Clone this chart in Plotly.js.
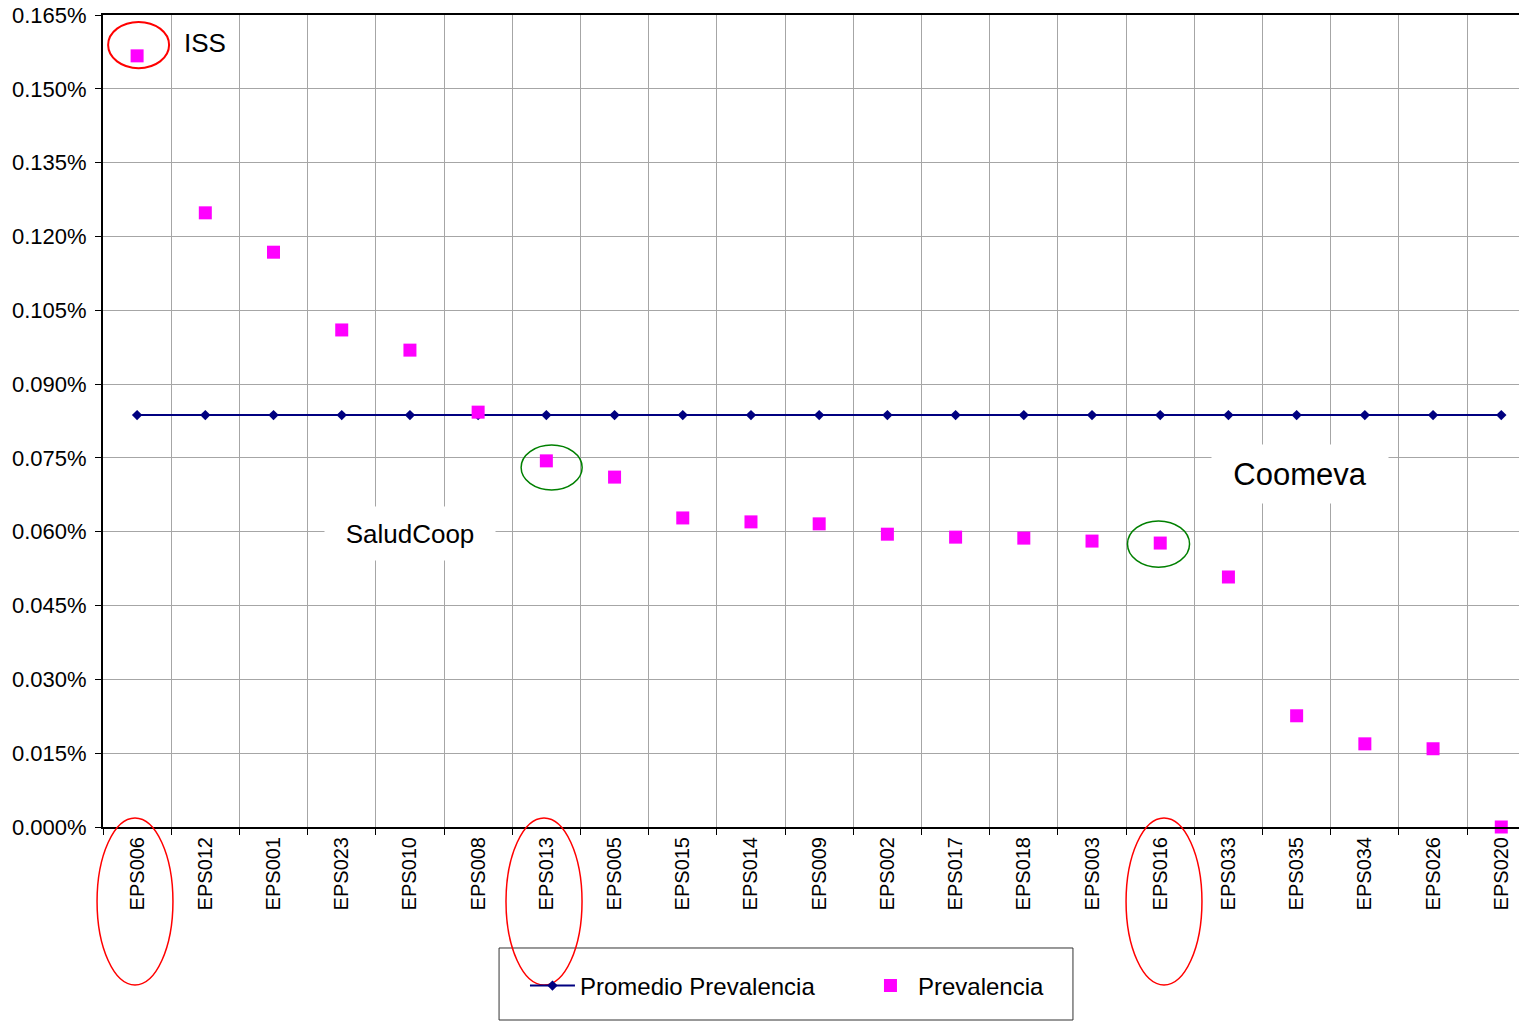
<!DOCTYPE html>
<html>
<head>
<meta charset="utf-8">
<script src="https://cdn.plot.ly/plotly-3.0.1.min.js"></script>
<style>html,body{margin:0;padding:0;background:#fff;}</style>
</head>
<body>
<div id="chart" style="width:1519px;height:1022px;"></div>
<script>
const categories = ["EPS006","EPS012","EPS001","EPS023","EPS010","EPS008","EPS013","EPS005","EPS015","EPS014","EPS009","EPS002","EPS017","EPS018","EPS003","EPS016","EPS033","EPS035","EPS034","EPS026","EPS020"];
const prevalencia = [0.001567,0.001248,0.001168,0.001010,0.000969,0.000843,0.000744,0.000711,0.000628,0.000620,0.000616,0.000595,0.000589,0.000587,0.000581,0.000577,0.000508,0.000226,0.000169,0.000159,0.0];
const promedioValue = 0.000837;
const promedio = categories.map(() => promedioValue);

const FONT = "Liberation Sans, Arial, sans-serif";

const traces = [
  {
    x: categories, y: promedio, name: "Promedio Prevalencia",
    type: "scatter", mode: "lines+markers",
    line: {color: "#000080", width: 2},
    marker: {symbol: "diamond", size: 8, color: "#000080"},
    cliponaxis: false
  },
  {
    x: categories, y: prevalencia, name: "Prevalencia",
    type: "scatter", mode: "markers",
    marker: {symbol: "square", size: 13, color: "#ff00ff"},
    cliponaxis: false
  }
];

const shapes = [
  {type:"rect", xref:"paper", yref:"paper", x0:0.2797, x1:0.685, y0:-0.2377, y1:-0.149, line:{color:"#333", width:1}, layer:"above"},
  {type:"circle", xref:"x", yref:"y", x0:-0.425, x1:0.469, y0:0.001542, y1:0.001636, line:{color:"#ff0000", width:2}, layer:"above"},
  {type:"circle", xref:"x", yref:"y", x0:5.63, x1:6.525, y0:0.000685, y1:0.000776, line:{color:"#008000", width:1.5}, layer:"above"},
  {type:"circle", xref:"x", yref:"y", x0:14.52, x1:15.43, y0:0.000528, y1:0.000622, line:{color:"#008000", width:1.5}, layer:"above"},
  {type:"circle", xref:"paper", yref:"paper", x0:-0.0042, x1:0.0494, y0:-0.1946, y1:0.0111, line:{color:"#ff0000", width:1.5}, layer:"above"},
  {type:"circle", xref:"paper", yref:"paper", x0:0.2846, x1:0.3383, y0:-0.1946, y1:0.0111, line:{color:"#ff0000", width:1.5}, layer:"above"},
  {type:"circle", xref:"paper", yref:"paper", x0:0.7225, x1:0.7761, y0:-0.1946, y1:0.0111, line:{color:"#ff0000", width:1.5}, layer:"above"}
];

const annotations = [
  {text:"ISS", x:1, y:0.001593, xref:"x", yref:"y", showarrow:false, font:{family:FONT, size:26, color:"#000"}},
  {text:"SaludCoop", x:4, y:0.000597, xref:"x", yref:"y", showarrow:false, font:{family:FONT, size:26, color:"#000"}, bgcolor:"#ffffff", width:150, height:33, borderpad:10},
  {text:"Coomeva", x:17.05, y:0.000717, xref:"x", yref:"y", showarrow:false, font:{family:FONT, size:31, color:"#000"}, bgcolor:"#ffffff", width:156, height:38, borderpad:10}
];

const layout = {
  width: 1519, height: 1022,
  margin: {l:103, r:0, t:15, b:195, pad:0},
  paper_bgcolor: "#ffffff", plot_bgcolor: "#ffffff",
  font: {family: FONT, color: "#000"},
  showlegend: true,
  legend: {
    orientation: "h", x: 0.298, y: -0.1958, xanchor: "left", yanchor: "middle",
    bgcolor: "rgba(0,0,0,0)", borderwidth: 0,
    font: {family: FONT, size: 24, color: "#000"},
    itemwidth: 45,
    entrywidth: 278
  },
  xaxis: {
    type: "category", range: [-0.5, 20.26],
    tickson: "boundaries", ticks: "outside", ticklen: 6, tickcolor: "#000", tickwidth: 1,
    tickangle: -90, tickfont: {family: FONT, size: 20, color: "#000"},
    showgrid: true, gridcolor: "#a6a6a6", gridwidth: 1,
    showline: true, linecolor: "#000", linewidth: 2, mirror: true,
    zeroline: false, fixedrange: true
  },
  yaxis: {
    range: [0, 0.00165], dtick: 0.00015, tick0: 0, tickformat: ".3%",
    ticks: "outside", ticklen: 6, tickcolor: "#000", tickwidth: 1,
    tickfont: {family: FONT, size: 22, color: "#000"},
    ticklabelstandoff: 4,
    showgrid: true, gridcolor: "#a6a6a6", gridwidth: 1,
    showline: true, linecolor: "#000", linewidth: 2,
    zeroline: false, fixedrange: true
  },
  shapes: shapes,
  annotations: annotations
};

Plotly.newPlot("chart", traces, layout, {displayModeBar: false, staticPlot: true});
</script>
</body>
</html>
